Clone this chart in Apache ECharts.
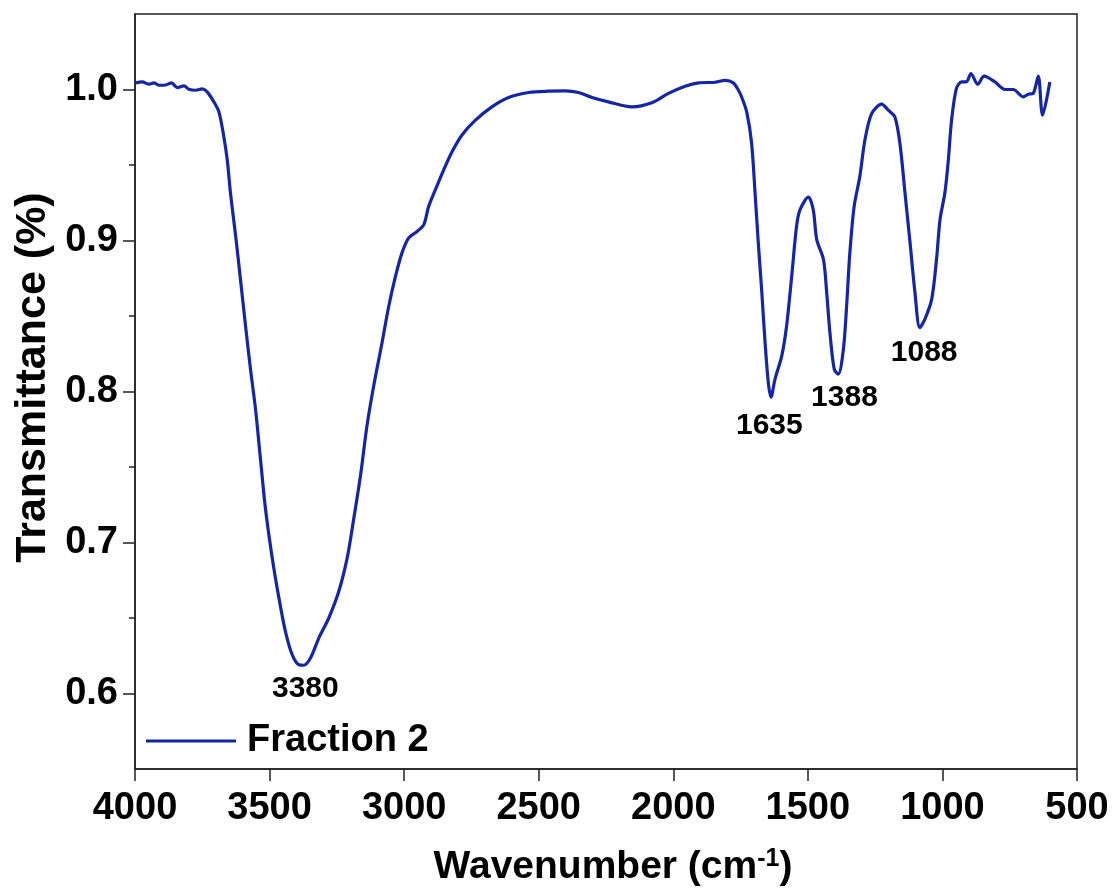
<!DOCTYPE html>
<html>
<head>
<meta charset="utf-8">
<script src="https://cdn.jsdelivr.net/npm/echarts@6/dist/echarts.min.js"></script>
<style>html,body{margin:0;padding:0;background:#fff;}#c{width:1114px;height:892px;}</style>
</head>
<body>
<div id="c"></div>
<script>
// ---- data ----
const wavenumber = [3997,3973,3948,3929,3911,3886,3864,3843,3818,3800,3775,3750,3732,3707,3688,3670,3657,3645,3626,3608,3589,3571,3552,3534,3515,3490,3465,3441,3416,3391,3373,3348,3317,3280,3243,3212,3187,3162,3138,3113,3082,3057,3032,3008,2983,2952,2927,2909,2884,2853,2822,2785,2735,2674,2612,2537,2463,2401,2352,2302,2241,2154,2080,2018,1956,1906,1844,1807,1777,1758,1746,1727,1709,1696,1684,1671,1659,1647,1637,1622,1597,1579,1560,1542,1529,1498,1480,1467,1442,1430,1418,1402,1387,1368,1356,1344,1328,1307,1288,1263,1226,1201,1177,1158,1139,1120,1102,1084,1065,1040,1022,1009,991,978,966,948,929,911,894,869,845,805,768,737,700,681,663,644,628,601];
const transmittance = [1.0044,1.005,1.0035,1.0044,1.0028,1.003,1.0044,1.0013,1.0024,1.0002,0.9995,1.0004,0.9984,0.9918,0.985,0.9687,0.953,0.931,0.903,0.874,0.843,0.815,0.788,0.7555,0.722,0.6896,0.663,0.641,0.6257,0.619,0.6187,0.6235,0.6367,0.65,0.6675,0.6895,0.716,0.7445,0.7774,0.8038,0.8325,0.8566,0.8764,0.8918,0.9017,0.906,0.9105,0.9226,0.9336,0.9468,0.9588,0.9699,0.9797,0.9885,0.9947,0.998,0.9989,0.9991,0.998,0.9947,0.9918,0.9885,0.9912,0.9974,1.0022,1.0044,1.0048,1.0061,1.0044,0.9995,0.995,0.985,0.9644,0.931,0.898,0.8654,0.8325,0.806,0.7962,0.8082,0.8236,0.8434,0.8764,0.9094,0.9204,0.9288,0.9204,0.9006,0.8874,0.8654,0.839,0.8148,0.8115,0.828,0.8566,0.8918,0.9226,0.9423,0.9666,0.984,0.9903,0.9863,0.9819,0.9644,0.9314,0.898,0.8654,0.8423,0.848,0.861,0.8874,0.9138,0.9314,0.9534,0.9797,1.0007,1.005,1.005,1.0106,1.0035,1.0088,1.005,1.0,1.0,0.9951,0.9969,0.9974,1.0088,0.983,1.005];
const seriesName = 'Fraction 2';
const peakLabels = ['3380','1635','1388','1088'];
const peakLabelX = [3367,1643,1364,1068];
const peakLabelY = [0.603,0.777,0.796,0.826];
const yMajorTicks = [0.6,0.7,0.8,0.9,1.0];
const yMinorTicks = [0.65,0.75,0.85,0.95];
const xTitle = 'Wavenumber (cm';
const yTitle = 'Transmittance (%)';

const FONT = 'Arial, "Liberation Sans", sans-serif';
const lineColor = '#1426a6';
const chart = echarts.init(document.getElementById('c'));
const lineData = wavenumber.map((w,i)=>[w, transmittance[i]]);
const labelData = peakLabels.map((t,i)=>({value:[peakLabelX[i], peakLabelY[i]], name:t}));

chart.setOption({
  backgroundColor:'#fff',
  animation:false,
  grid:{left:135, right:37, top:14, bottom:120, show:true, borderColor:'#222', borderWidth:1.5, backgroundColor:'transparent'},
  legend:{
    data:[seriesName], left:146, top:722, padding:0,
    icon:'rect', itemWidth:90, itemHeight:3,
    textStyle:{fontFamily:FONT, fontWeight:'bold', fontSize:38, color:'#000', padding:[0,0,0,6]}
  },
  xAxis:{
    type:'value', inverse:true, min:500, max:4000, interval:500,
    axisLine:{lineStyle:{color:'#222', width:1.5}},
    axisTick:{inside:false, length:12, lineStyle:{color:'#222', width:1.5}},
    splitLine:{show:false},
    axisLabel:{fontFamily:FONT, fontWeight:'bold', fontSize:38, color:'#000', margin:21, formatter:v=>String(v)},
    name:'{m|'+xTitle+'}{s|-1}{m|)}', nameLocation:'middle', nameGap:78,
    nameTextStyle:{padding:[0,0,0,14], rich:{
      m:{fontFamily:FONT, fontWeight:'bold', fontSize:39, color:'#000', lineHeight:40, verticalAlign:'bottom'},
      s:{fontFamily:FONT, fontWeight:'bold', fontSize:25, color:'#000', lineHeight:40, verticalAlign:'top', padding:[0,0,14,0]}
    }}
  },
  yAxis:[{
    type:'value', min:0.55, max:1.05, position:'left',
    axisLine:{show:true, lineStyle:{color:'#222', width:1.5}},
    axisTick:{show:true, length:12, customValues:yMajorTicks, lineStyle:{color:'#222', width:1.5}},
    splitLine:{show:false},
    axisLabel:{customValues:yMajorTicks, fontFamily:FONT, fontWeight:'bold', fontSize:38, color:'#000', margin:17,
      formatter:v=>Number(v).toFixed(1)},
    name:yTitle, nameLocation:'middle', nameRotate:90, nameGap:80,
    nameTextStyle:{fontFamily:FONT, fontWeight:'bold', fontSize:43, color:'#000', padding:[0,0,0,28]}
  },{
    type:'value', min:0.55, max:1.05, position:'left', offset:0,
    axisLine:{show:false},
    axisTick:{show:true, length:6, customValues:yMinorTicks, lineStyle:{color:'#222', width:1.5}},
    axisLabel:{show:false}, splitLine:{show:false}
  }],
  series:[{
    name:seriesName, type:'line', data:lineData, showSymbol:false, smooth:0.3,
    lineStyle:{color:lineColor, width:3.2}, itemStyle:{color:lineColor}, z:3
  },{
    type:'scatter', data:labelData, symbolSize:0, silent:true, itemStyle:{opacity:1},
    label:{show:true, position:[0,0], align:'center', verticalAlign:'middle', formatter:p=>p.name,
      fontFamily:FONT, fontWeight:'bold', fontSize:30, color:'#000', opacity:1}
  }]
});
</script>
</body>
</html>
